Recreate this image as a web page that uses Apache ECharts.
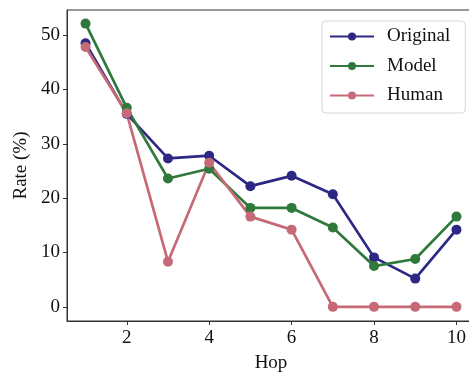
<!DOCTYPE html>
<html>
<head>
<meta charset="utf-8">
<script src="https://cdn.jsdelivr.net/npm/echarts@6/dist/echarts.min.js"></script>
<style>
    html, body { margin: 0; padding: 0; background: #fff; }
    #chart { width: 469px; height: 372px; }
</style>
</head>
<body>
<div id="chart"></div>
<script>
    var hops = [1, 2, 3, 4, 5, 6, 7, 8, 9, 10];
    var original = [48.5, 35.5, 27.3, 27.8, 22.2, 24.1, 20.7, 9.1, 5.2, 14.2];
    var model = [52.1, 36.6, 23.6, 25.4, 18.2, 18.2, 14.6, 7.5, 8.8, 16.6];
    var human = [47.8, 35.6, 8.3, 26.5, 16.6, 14.2, 0, 0, 0, 0];
    var xTicks = [2, 4, 6, 8, 10];
    var yTicks = [0, 10, 20, 30, 40, 50];

    var font = 'Liberation Serif, DejaVu Serif, serif';

    function pairs(values) {
        return hops.map(function (h, i) { return [h, values[i]]; });
    }

    function lineSeries(name, color, values) {
        return {
            name: name,
            type: 'line',
            data: pairs(values),
            symbol: 'circle',
            symbolSize: 10,
            lineStyle: { color: color, width: 2.7 },
            itemStyle: { color: color },
            emphasis: { disabled: true }
        };
    }

    var myChart = echarts.init(document.getElementById('chart'));
    var option = {
        animation: false,
        grid: {
            left: 67, top: 10, width: 408, height: 311,
            outerBoundsMode: 'none',
            containLabel: false,
            show: true, borderColor: '#333', borderWidth: 1
        },
        legend: {
            left: 322, top: 21,
            orient: 'vertical',
            itemWidth: 44, itemHeight: 10, itemGap: 10.5,
            padding: [6, 15, 8, 7],
            backgroundColor: '#fff',
            borderColor: '#d8d8d8', borderWidth: 1, borderRadius: 4,
            textStyle: { fontFamily: font, fontSize: 19, color: '#111', padding: [0, 0, 0, 8] },
            data: ['Original', 'Model', 'Human']
        },
        xAxis: {
            type: 'value',
            min: 0.55, max: 10.45,
            name: 'Hop',
            nameLocation: 'middle',
            nameGap: 33,
            nameTextStyle: { fontFamily: font, fontSize: 19, color: '#111' },
            axisLine: { show: true, onZero: false, lineStyle: { color: '#333', width: 1 } },
            axisTick: { show: true, length: 4, customValues: xTicks, lineStyle: { color: '#333' } },
            axisLabel: { fontFamily: font, fontSize: 19, color: '#111', margin: 8, customValues: xTicks },
            splitLine: { show: false }
        },
        yAxis: {
            type: 'value',
            min: -2.6, max: 54.6,
            name: 'Rate (%)',
            nameLocation: 'middle',
            nameGap: 35,
            nameTextStyle: { fontFamily: font, fontSize: 19, color: '#111' },
            axisLine: { show: true, onZero: false, lineStyle: { color: '#333', width: 1 } },
            axisTick: { show: true, length: 4, customValues: yTicks, lineStyle: { color: '#333' } },
            axisLabel: { fontFamily: font, fontSize: 19, color: '#111', margin: 7, customValues: yTicks },
            splitLine: { show: false }
        },
        series: [
            lineSeries('Original', '#2e2885', original),
            lineSeries('Model', '#2f7a3b', model),
            lineSeries('Human', '#c76a77', human)
        ]
    };
    myChart.setOption(option);
</script>
</body>
</html>
